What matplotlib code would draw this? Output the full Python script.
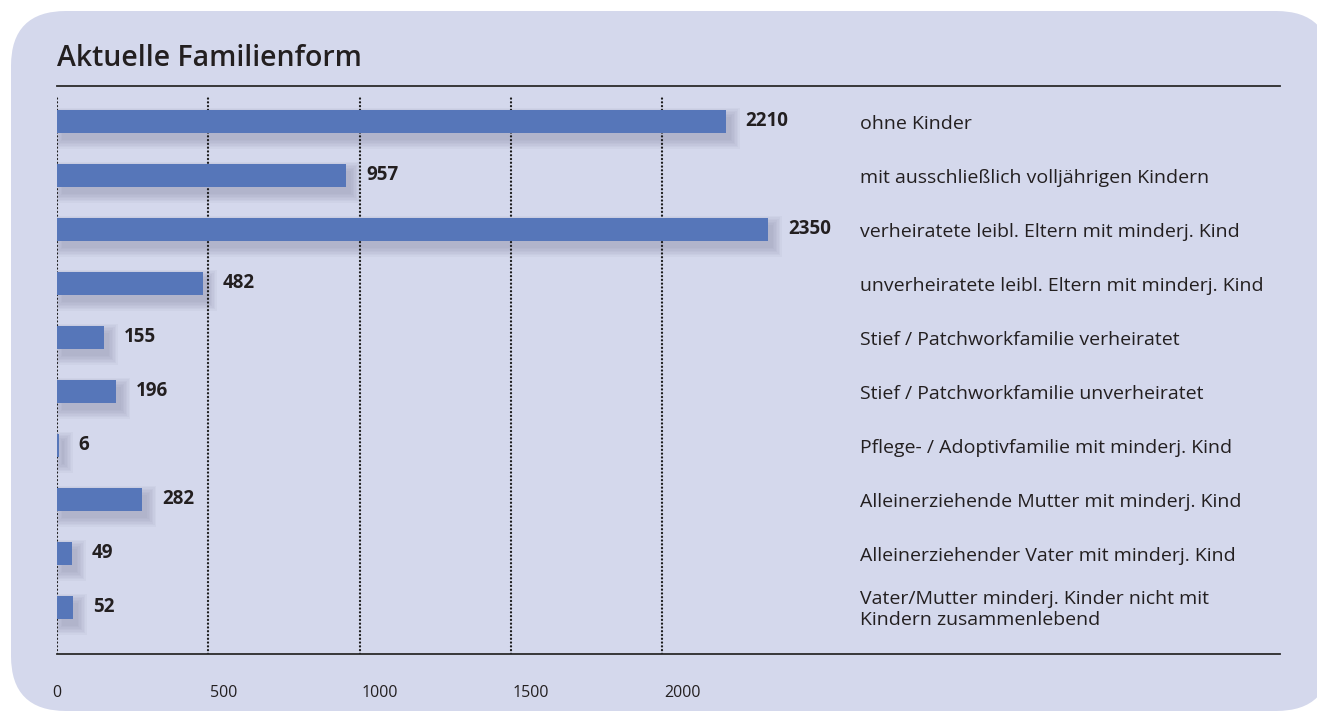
# Aktuelle Familienform - horizontal bar chart
import matplotlib
matplotlib.use("Agg")
from matplotlib import pyplot as plt
from matplotlib.patches import FancyBboxPatch
from matplotlib.transforms import ScaledTranslation

categories = ["ohne Kinder",
              "mit ausschließlich volljährigen Kindern",
              "verheiratete leibl. Eltern mit minderj. Kind",
              "unverheiratete leibl. Eltern mit minderj. Kind",
              "Stief / Patchworkfamilie verheiratet",
              "Stief / Patchworkfamilie unverheiratet",
              "Pflege- / Adoptivfamilie mit minderj. Kind",
              "Alleinerziehende Mutter mit minderj. Kind",
              "Alleinerziehender Vater mit minderj. Kind",
              "Vater/Mutter minderj. Kinder nicht mit\nKindern zusammenlebend"]
values = [2210, 957, 2350, 482, 155, 196, 6, 282, 49, 52]
ticks = [0, 500, 1000, 1500, 2000]

bg = "#d4d8ec"
bar_col = "#5676b9"
txt = "#231f20"

plt.rcParams['font.family'] = ['Open Sans', 'DejaVu Sans']

W, H = 1317, 713
fig = plt.figure(figsize=(W / 100, H / 100), dpi=100)
fig.patch.set_facecolor("white")

# rounded lavender panel (pixel coords)
box = FancyBboxPatch((11, 2), 1320, 700, boxstyle="round,pad=0,rounding_size=55",
                     transform=None, facecolor=bg, edgecolor="none", zorder=-10)
fig.patches.append(box)

fig.text(57 / W, 1 - 66 / H, "Aktuelle Familienform", fontsize=20.5,
         fontweight="semibold", color=txt, ha="left", va="baseline")

ax = fig.add_axes([57 / W, (H - 654) / H, 1223 / W, 568 / H])
ax.set_facecolor("none")
ax.set_zorder(1)

px = 0.3025  # pixels per unit
xmax = 1223 / px
ax.set_xlim(0, xmax)
ax.set_ylim(9 + 47 / 54, -35 / 54)

ys = list(range(len(values)))
h = 23 / 54

# soft shadow behind the bars
for k in range(7):
    grow = k * 1.5
    ax.barh([y + 7 / 54 for y in ys], [v + 2 * grow / px for v in values],
            left=(5 - grow) / px, height=h + 2 * grow / 54,
            color="#7d809c", alpha=0.065, linewidth=0, zorder=1)

ax.barh(ys, values, height=h, color=bar_col, linewidth=0, zorder=3)

for t in ticks:
    ax.axvline(t, ymin=0, ymax=0.985, color="#1a1a1a", linestyle=(0, (0.1, 1.6)),
               linewidth=1.6, dash_capstyle="round", zorder=2)

for y, v in zip(ys, values):
    ax.text(v + 20 / px, y, str(v), fontsize=13.5, fontweight="bold",
            color=txt, ha="left", va="center", zorder=4)

trans = ax.get_yaxis_transform()
for y, c in zip(ys, categories):
    ax.text((860 - 57) / 1223, y + 0.05, c, transform=trans, fontsize=14,
            color=txt, ha="left", va="center", linespacing=1.25)

for s in ["left", "right"]:
    ax.spines[s].set_visible(False)
for s in ["top", "bottom"]:
    ax.spines[s].set_color("#2b2b2b")
    ax.spines[s].set_linewidth(1.3)

ax.set_yticks([])
ax.set_xticks(ticks)
ax.set_xticklabels([str(t) for t in ticks])
ax.tick_params(axis="x", length=0, pad=22, labelsize=11.5, labelcolor=txt)
for t, lab in zip(ticks, ax.get_xticklabels()):
    if t > 0:
        lab.set_horizontalalignment("left")
        lab.set_transform(lab.get_transform() + ScaledTranslation(2 / 100, 0, fig.dpi_scale_trans))

fig.savefig("out.png", dpi=100, facecolor="white")
